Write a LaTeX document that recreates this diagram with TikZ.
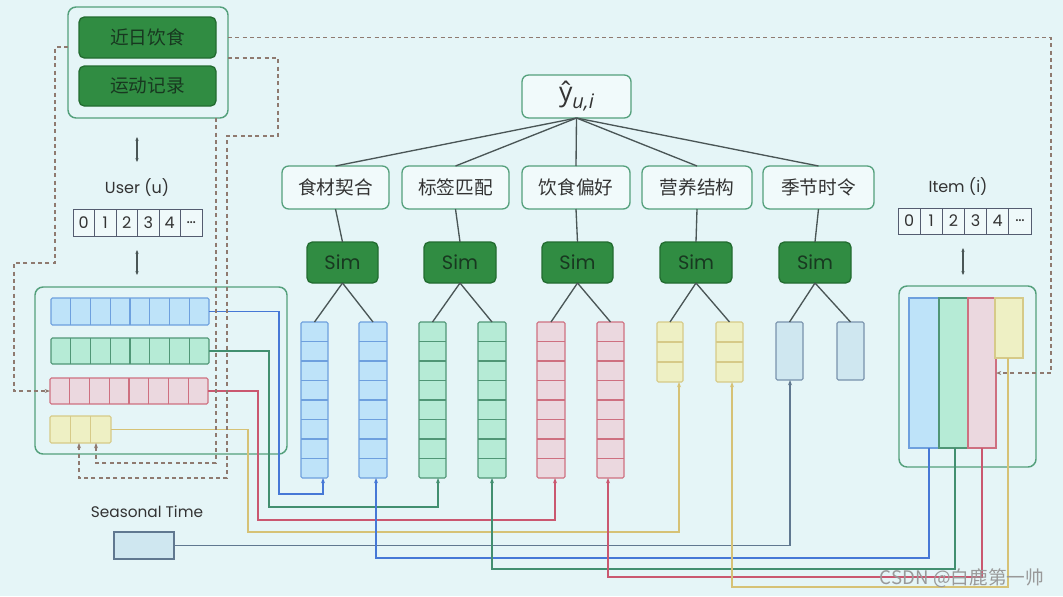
\documentclass[tikz,border=0pt]{standalone}
\usepackage{fontspec}
\setmainfont{Poppins}
\newfontfamily\cjk{Noto Sans CJK SC}
\newfontfamily\ysans{Open Sans}
\usetikzlibrary{arrows.meta,calc}
\definecolor{bg}{RGB}{229,245,247}
\definecolor{boxg}{RGB}{84,160,124}
\definecolor{simF}{RGB}{48,140,66}
\definecolor{simD}{RGB}{34,108,48}
\definecolor{simT}{RGB}{24,56,32}
\definecolor{blueF}{RGB}{190,227,249}
\definecolor{blueD}{RGB}{110,160,222}
\definecolor{greenF}{RGB}{182,235,214}
\definecolor{greenD}{RGB}{80,150,118}
\definecolor{redF}{RGB}{235,216,223}
\definecolor{redD}{RGB}{206,112,128}
\definecolor{yelF}{RGB}{238,240,196}
\definecolor{yelD}{RGB}{214,202,136}
\definecolor{sbF}{RGB}{207,231,240}
\definecolor{sbD}{RGB}{120,146,172}
\definecolor{cB}{RGB}{70,120,214}
\definecolor{cG}{RGB}{66,143,112}
\definecolor{cR}{RGB}{202,88,112}
\definecolor{cY}{RGB}{214,194,118}
\definecolor{cS}{RGB}{96,120,144}
\definecolor{dsh}{RGB}{143,122,112}
\definecolor{tree}{RGB}{74,86,86}
\definecolor{txt}{RGB}{51,51,51}
\definecolor{cellD}{RGB}{84,92,112}

\newcommand\mkbox[7]{%
  \pgfmathsetmacro\bxcx{((#2)+(#4))/2}%
  \pgfmathsetmacro\bxcy{((#3)+(#5))/2}%
  \pgfmathsetmacro\bxw{((#4)-(#2))*0.75}%
  \pgfmathsetmacro\bxh{((#5)-(#3))*0.75}%
  \node[#6, minimum width=\bxw pt, minimum height=\bxh pt, inner sep=0pt, outer sep=0pt] (#1) at (\bxcx,\bxcy) {#7};}
\newcommand\divV[3]{%
  \pgfmathtruncatemacro\dvm{#2-1}%
  \foreach \k in {1,...,\dvm}{\draw[#3] ($(#1.north west)!\k/#2!(#1.south west)$) -- ($(#1.north east)!\k/#2!(#1.south east)$);}}
\newcommand\divH[3]{%
  \pgfmathtruncatemacro\dvm{#2-1}%
  \foreach \k in {1,...,\dvm}{\draw[#3] ($(#1.north west)!\k/#2!(#1.north east)$) -- ($(#1.south west)!\k/#2!(#1.south east)$);}}

\begin{document}
\begin{tikzpicture}[x=0.75pt,y=-0.75pt,
  outerbox/.style={draw=boxg, line width=1.1pt, rounded corners=6pt, fill=bg},
  greenbox/.style={draw=simD, line width=1pt, rounded corners=4pt, fill=simF, text=simT, font=\cjk\fontsize{14}{16}\selectfont},
  featbox/.style={draw=boxg, line width=1pt, rounded corners=5pt, fill=white!45!bg, text=txt, font=\cjk\fontsize{14}{16}\selectfont},
  simbox/.style={draw=simD, line width=1pt, rounded corners=4pt, fill=simF, text=simT, font=\fontsize{14.5}{16}\selectfont},
  bvec/.style={draw=blueD, line width=0.8pt, fill=blueF, rounded corners=1pt},
  gvec/.style={draw=greenD, line width=0.8pt, fill=greenF, rounded corners=1pt},
  rvec/.style={draw=redD, line width=0.8pt, fill=redF, rounded corners=1pt},
  yvec/.style={draw=yelD, line width=0.8pt, fill=yelF, rounded corners=1pt},
  svec/.style={draw=sbD, line width=0.8pt, fill=sbF, rounded corners=1pt},
  idxcell/.style={draw=cellD, line width=0.7pt, fill=white!40!bg, text=txt, font=\fontsize{12}{14}\selectfont},
  lbl/.style={text=txt, font=\fontsize{12}{14}\selectfont},
  treeline/.style={draw=tree, line width=1pt},
  conn/.style={line width=0.9pt, -{Stealth[length=4pt,width=3pt]}},
  dline/.style={draw=dsh, line width=0.9pt, dash pattern=on 3pt off 2.5pt, -{Stealth[length=4pt,width=3pt]}},
  dbl/.style={draw=tree, line width=0.9pt, {Stealth[length=3pt,width=2.5pt]}-{Stealth[length=3pt,width=2.5pt]}}]
\fill[bg] (0,0) rectangle (1063,596);
\useasboundingbox (0,0) rectangle (1063,596);

% ---- top-left context box
\mkbox{topbox}{68}{7}{228}{118}{outerbox}{}
\mkbox{recent}{79}{17}{216}{58}{greenbox}{近日饮食}
\mkbox{sport}{79}{66}{216}{106}{greenbox}{运动记录}

% ---- user
\coordinate (ua1) at (137,137); \coordinate (ua2) at (137,162);
\draw[dbl] (ua1) -- (ua2);
\node[lbl] (ulbl) at (137,188) {User (u)};
\foreach \t [count=\i] in {0,1,2,3,4,\ldots}{
  \mkbox{uc\i}{73+(\i-1)*21.5}{209}{73+\i*21.5}{236}{idxcell}{\t}}
\coordinate (ua3) at (137,250); \coordinate (ua4) at (137,275);
\draw[dbl] (ua3) -- (ua4);

\mkbox{ubox}{35}{287}{287}{454}{outerbox}{}
\mkbox{ub}{51}{298}{209}{325}{bvec}{} \divH{ub}{8}{blueD,line width=0.8pt}
\mkbox{ug}{51}{338}{209}{364}{gvec}{} \divH{ug}{8}{greenD,line width=0.8pt}
\mkbox{ur}{50}{378}{208}{404}{rvec}{} \divH{ur}{8}{redD,line width=0.8pt}
\mkbox{uy}{50}{416}{111}{443}{yvec}{} \divH{uy}{3}{yelD,line width=0.8pt}

% ---- seasonal
\node[lbl, font=\fontsize{11.5}{14}\selectfont] (stlbl) at (147,512) {Seasonal Time};
\mkbox{sbox}{114}{532}{174}{559}{svec, draw=cS, rounded corners=0pt}{}

% ---- tree
\mkbox{yhat}{522}{75}{631}{118}{featbox}{\ysans\fontsize{20}{24}\selectfont ŷ\raisebox{-0.5ex}{\fontsize{15}{17}\selectfont\itshape u,i}}
\mkbox{f1}{282}{166}{389}{209}{featbox}{食材契合}
\mkbox{f2}{402}{166}{509}{209}{featbox}{标签匹配}
\mkbox{f3}{522}{166}{630}{209}{featbox}{饮食偏好}
\mkbox{f4}{642}{166}{752}{209}{featbox}{营养结构}
\mkbox{f5}{763}{166}{874}{209}{featbox}{季节时令}
\mkbox{s1}{307}{242}{378}{283}{simbox}{Sim}
\mkbox{s2}{424}{242}{496}{283}{simbox}{Sim}
\mkbox{s3}{542}{242}{613}{283}{simbox}{Sim}
\mkbox{s4}{660}{242}{732}{283}{simbox}{Sim}
\mkbox{s5}{779}{242}{851}{283}{simbox}{Sim}
\foreach \f in {f1,f2,f3,f4,f5}{\draw[treeline] (yhat.south) -- (\f.north);}
\foreach \i in {1,...,5}{\draw[treeline] (f\i.south) -- (s\i.north);}

\mkbox{v1a}{301}{322}{328}{478}{bvec}{} \divV{v1a}{8}{blueD,line width=0.8pt}
\mkbox{v1b}{359}{322}{387}{478}{bvec}{} \divV{v1b}{8}{blueD,line width=0.8pt}
\mkbox{v2a}{419}{322}{446}{478}{gvec}{} \divV{v2a}{8}{greenD,line width=0.8pt}
\mkbox{v2b}{478}{322}{506}{478}{gvec}{} \divV{v2b}{8}{greenD,line width=0.8pt}
\mkbox{v3a}{537}{322}{565}{478}{rvec}{} \divV{v3a}{8}{redD,line width=0.8pt}
\mkbox{v3b}{597}{322}{624}{478}{rvec}{} \divV{v3b}{8}{redD,line width=0.8pt}
\mkbox{v4a}{657}{322}{683}{382}{yvec}{} \divV{v4a}{3}{yelD,line width=0.8pt}
\mkbox{v4b}{716}{322}{743}{382}{yvec}{} \divV{v4b}{3}{yelD,line width=0.8pt}
\mkbox{v5a}{776}{322}{803}{380}{svec}{}
\mkbox{v5b}{837}{322}{864}{380}{svec}{}
\foreach \i in {1,...,5}{\draw[treeline] (s\i.south) -- (v\i a.north); \draw[treeline] (s\i.south) -- (v\i b.north);}

% ---- item
\node[lbl] (ilbl) at (958,187) {Item (i)};
\foreach \t [count=\i] in {0,1,2,3,4,\ldots}{
  \mkbox{ic\i}{898+(\i-1)*22.17}{208}{898+\i*22.17}{234}{idxcell}{\t}}
\coordinate (ia1) at (963,248); \coordinate (ia2) at (963,275);
\draw[dbl] (ia1) -- (ia2);
\mkbox{ibox}{899}{286}{1036}{467}{outerbox}{}
\mkbox{ib}{909}{298}{939}{448}{bvec,rounded corners=0pt}{}
\mkbox{ig}{939}{298}{968}{448}{gvec,rounded corners=0pt}{}
\mkbox{ir}{968}{298}{996}{448}{rvec,rounded corners=0pt}{}
\mkbox{iy}{995}{298}{1023}{358}{yvec,rounded corners=0pt}{}

% ---- solid connectors
\draw[conn,cB] (ub.east) -| (279,494) -| ($(v1a.south)+(8.5,0)$);
\draw[conn,cG] (ug.east) -| (269,507) -| ($(v2a.south)+(5.5,0)$);
\draw[conn,cR] (ur.east) -| (258,520) -| ($(v3a.south)+(4,0)$);
\draw[conn,cY] (uy.east) -| (248,532) -| ($(v4a.south)+(9,0)$);
\draw[conn,cS] (sbox.east) -| ($(v5a.south)+(0.5,0)$);
\draw[conn,cB] ($(ib.south)+(5,0)$) |- ($(v1b.south)+(3,80)$) -- ($(v1b.south)+(3,0)$);
\draw[conn,cG] ($(ig.south)+(1.5,0)$) |- ($(v2b.south)+(0,91)$) -- (v2b.south);
\draw[conn,cR] (ir.south) |- ($(v3b.south)+(-2.5,99)$) -- ($(v3b.south)+(-2.5,0)$);
\draw[conn,cY] ($(iy.south)+(-1,0)$) |- ($(v4b.south)+(2.5,205)$) -- ($(v4b.south)+(2.5,0)$);

% ---- dashed connectors
\draw[dline] (topbox.east |- recent.east) -| (1051,373) -- (ir.east);
\draw[dline] ($(topbox.north west)+(0,40)$) -- (55,47) -- (55,263) -- (14,263) |- (ur.west);
\draw[dline] ($(topbox.north east)+(0,51)$) -- (278,58) -- (278,136) -- (227,136) -- (227,478) -| ($(uy.south)+(-1.5,0)$);
\draw[dline] ($(topbox.south east)+(-12,0)$) -- (216,463) -| ($(uy.south)+(15.5,0)$);

% ---- watermark
\node[text=black!40, font=\cjk\fontsize{14}{16}\selectfont] (wm) at (962,578) {CSDN @白鹿第一帅};
\end{tikzpicture}
\end{document}
